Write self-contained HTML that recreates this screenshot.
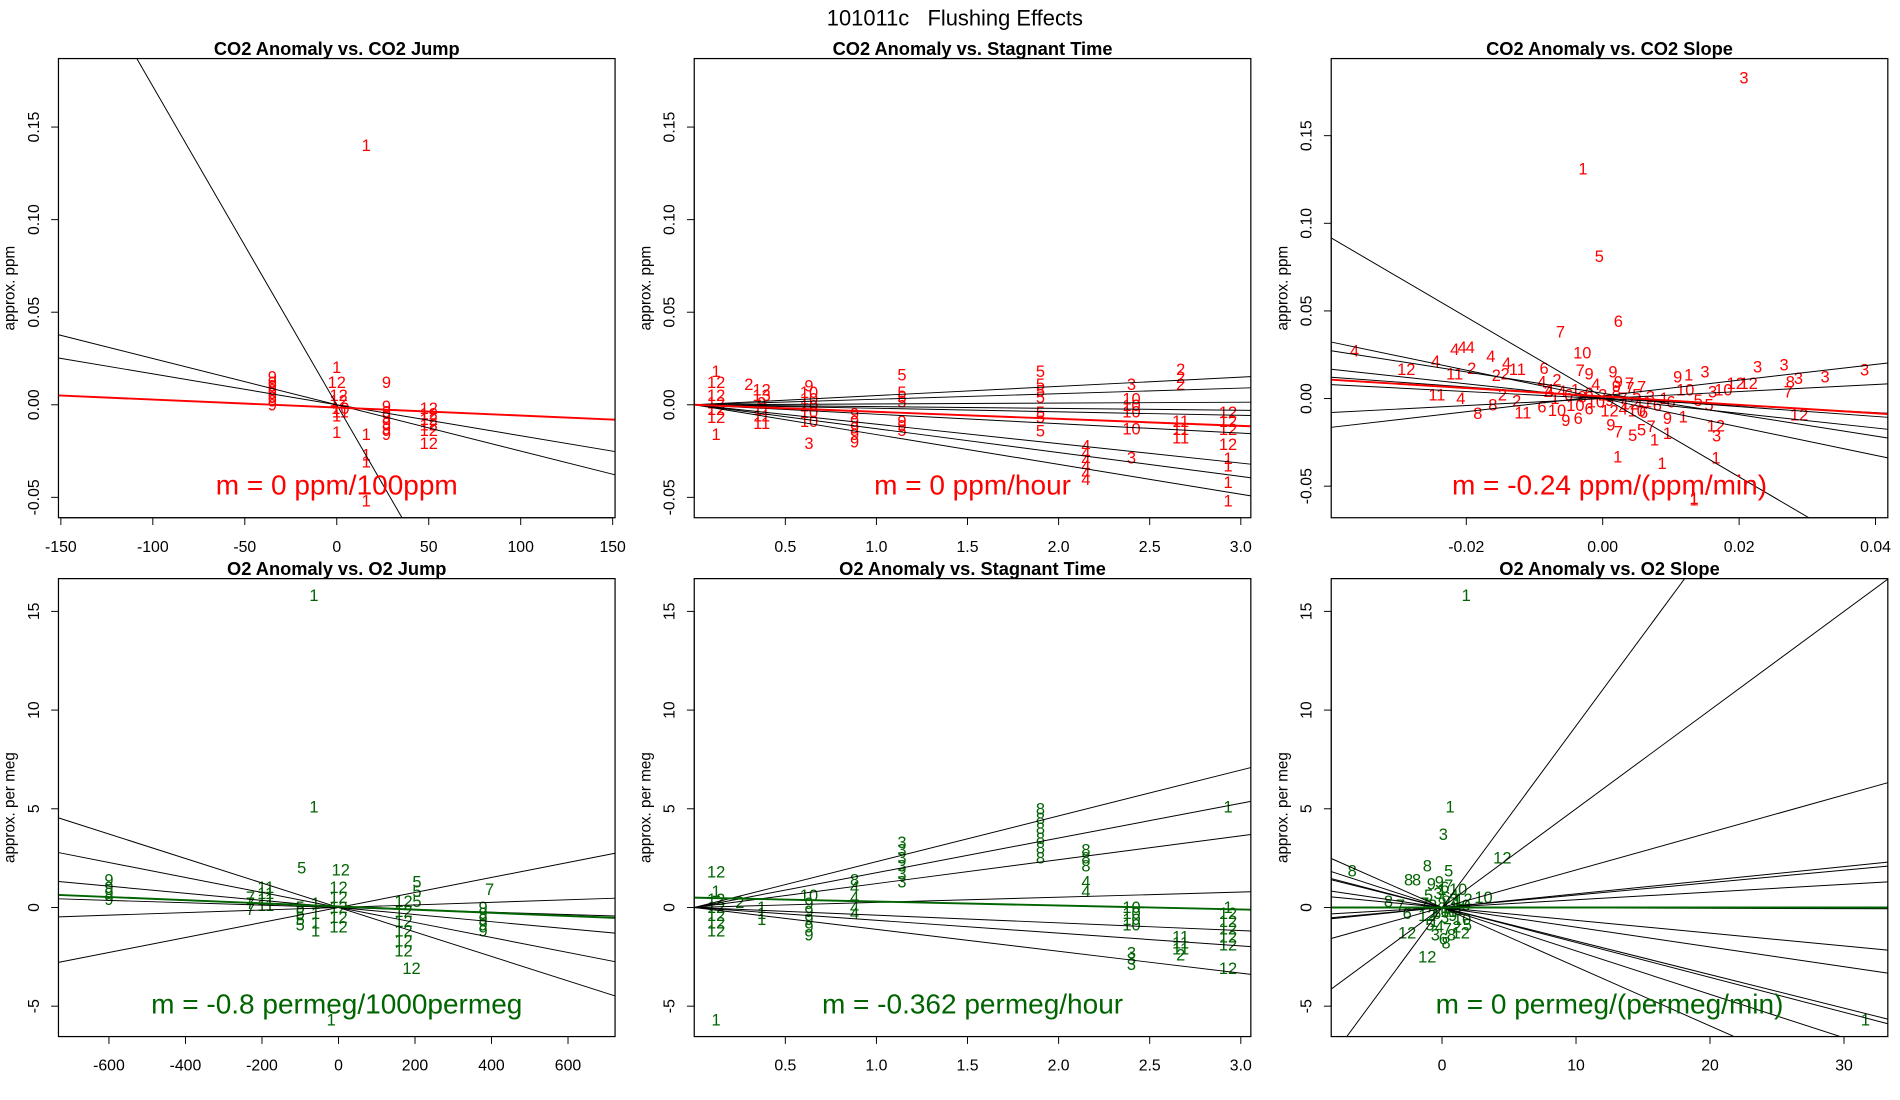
<!DOCTYPE html>
<html><head><meta charset="utf-8"><title>101011c Flushing Effects</title>
<style>
html,body{margin:0;padding:0;background:#fff;}
svg{display:block;font-family:"Liberation Sans",sans-serif;}
</style></head>
<body>
<svg id="chart" width="1900" height="1100" viewBox="0 0 1560 903" xmlns="http://www.w3.org/2000/svg">
<rect x="0" y="0" width="1560" height="903" fill="#fff"/>
<text x="784" y="21" text-anchor="middle" font-size="18" style="white-space:pre">101011c   Flushing Effects</text>
</svg>
<script>
// ---------- Panel 1: CO2 Anomaly vs CO2 Jump ----------
const p1X = [-35,-35,-35,-35,-35,-35,-35,-35, 0,0,1,1,2,2,0,0, 16,16,16,16,16, 27,27,27,27,27,27,27, 50,50,50,50,50,50];
const p1Y = [0.015,0.012,0.01,0.008,0.006,0.004,0.002,0, 0.02,0.012,0.005,0.002,-0.002,-0.004,-0.006,-0.015, 0.14,-0.016,-0.027,-0.031,-0.052, 0.012,-0.001,-0.004,-0.007,-0.01,-0.013,-0.016, -0.002,-0.005,-0.008,-0.011,-0.014,-0.021];
const p1L = ['9','9','9','9','9','9','9','9','1','12','12','12','10','11','1','1','1','1','1','1','1','9','9','9','9','9','9','9','12','12','12','12','12','12'];
const p1Slopes = [-0.00172,-0.00025,-0.000167];
const p1Ints = [0,0,0];
const p1FitSlope = -0.0000433, p1FitInt = -0.0015;

// ---------- Panel 2: CO2 Anomaly vs Stagnant Time ----------
const p2X = [0.12,0.12,0.12,0.12,0.12,0.12,0.12, 0.3, 0.37,0.37,0.37,0.37,0.37,0.37, 0.63,0.63,0.63,0.63,0.63,0.63,0.63, 0.88,0.88,0.88,0.88,0.88, 1.14,1.14,1.14,1.14,1.14,1.14,1.14, 1.9,1.9,1.9,1.9,1.9,1.9,1.9, 2.15,2.15,2.15,2.15,2.15,2.15, 2.4,2.4,2.4,2.4,2.4,2.4, 2.67,2.67,2.67,2.67,2.67,2.67, 2.93,2.93,2.93,2.93,2.93,2.93,2.93,2.93];
const p2Y = [0.018,0.012,0.005,0.001,-0.0025,-0.007,-0.016, 0.011, 0.008,0.005,0.001,-0.0025,-0.006,-0.01, 0.01,0.0065,0.003,-0.0007,-0.0043,-0.009,-0.021, -0.005,-0.009,-0.0125,-0.016,-0.02, 0.016,0.0065,0.004,0.0015,-0.009,-0.0116,-0.014, 0.018,0.011,0.0074,0.0038,-0.0043,-0.007,-0.0143, -0.0224,-0.026,-0.0297,-0.033,-0.037,-0.0405, 0.011,0.003,-0.0005,-0.004,-0.013,-0.0288, 0.019,0.0147,0.011,-0.009,-0.0134,-0.018, -0.0043,-0.009,-0.0134,-0.0215,-0.029,-0.033,-0.042,-0.052];
const p2L = ['1','12','12','12','12','12','1','2','12','13','9','11','11','11','9','10','10','10','10','10','3','9','9','9','9','9','5','5','5','5','9','9','5','5','5','5','5','5','5','5','4','4','4','4','4','4','3','10','10','10','10','3','2','2','2','11','11','11','12','12','12','12','1','1','1','1'];
const p2Slopes = [0.00497,0.003,0.00046,-0.00098,-0.0019,-0.0051,-0.0105,-0.0129,-0.0161];
const p2Ints = [0,0,0,0,0,0,0,0,0];
const p2FitSlope = -0.0038, p2FitInt = 0;

// ---------- Panel 3: CO2 Anomaly vs CO2 Slope ----------
const p3X = [0.0207,-0.0029,-0.0005,0.0023,-0.0062,-0.003,0.0134, -0.0364,-0.0217,-0.0206,-0.0194,-0.0245,-0.0288,-0.0164,-0.0141,-0.0125,-0.0217,-0.0192,-0.0156,-0.0143,-0.0243,-0.0208,-0.0183,-0.0161,-0.0147,-0.0126,-0.0117,-0.0086,-0.0067,-0.0089,-0.0078,-0.0089,-0.0067,-0.0054,-0.0036,-0.0033,-0.002,0.0015,0.0023,0.0039,0.0057, 0.0012,0.0023,0.0044,0.0057,0.0071,0.0076,0.0095,0.0095,0.0118,0.011,0.0126,0.015,0.0121,0.014,0.0156,0.0161,0.0177,0.0195,0.0214,0.0227,0.0266,0.0275,0.0287,0.0326,0.0384,0.0272,0.0288,0.0166,0.0167,0.0166,0.0022,0.0087,0.0134, -0.006,-0.005,-0.004,-0.003,-0.002,-0.001,0,0.001,0.002,0.003,0.004,0.005,0.006,0.007,0.008,-0.004,-0.002,0.001,0.003,0.005,0.006,-0.007,-0.008,-0.001,0.002,0.004,0.009,0.01];
const p3Y = [0.183,0.131,0.081,0.044,0.038,0.026,-0.058, 0.027,0.028,0.029,0.029,0.021,0.0165,0.024,0.02,0.0165,0.0139,0.017,0.013,0.014,0.002,0,-0.0086,-0.0038,0.002,-0.0015,-0.0082,0.017,0.0105,0.0095,0.0048,-0.0048,-0.0067,-0.0124,-0.0114,0.016,0.014,0.015,0.0095,0.0086,0.0067, -0.0152,-0.019,-0.021,-0.018,-0.016,-0.0238,-0.02,-0.0114,-0.0105,0.0124,0.0133,0.015,0.0048,-0.001,-0.0038,0.0038,0.0048,0.0086,0.0086,0.018,0.019,0.0095,0.0114,0.0124,0.0162,0.0038,-0.0095,-0.0158,-0.0215,-0.034,-0.0333,-0.037,-0.057, 0.004,0.002,0.005,0.001,0.003,-0.002,0.002,-0.001,0.004,0,-0.003,0.002,-0.002,0.001,-0.004,-0.004,-0.006,-0.007,-0.006,-0.007,-0.008,0,0.004,0.008,0.007,0.006,0,-0.002];
const p3L = ['3','1','5','6','7','10','1', '4','4','4','4','4','12','4','4','11','11','2','2','2','11','4','8','8','2','2','11','6','2','4','4','6','10','9','6','7','9','9','9','7','7', '9','7','5','5','7','1','1','9','1','9','1','3','10','5','5','3','10','12','12','3','3','8','3','3','3','7','12','12','3','1','1','1','1', '4','6','1','8','6','10','2','9','8','7','12','5','11','3','6','10','6','12','4','10','6','1','2','4','9','7','1','6'];
const p3Slopes = [-2.28,-0.81,-0.61,-0.42,-0.28,-0.2,0.2,0.45];
const p3Ints = [0.0009,0,0.003,0,0.001,0,0,0.0015];
const p3FitSlope = -0.24, p3FitInt = 0.0012;

// ---------- Panel 4: O2 Anomaly vs O2 Jump ----------
const p4X = [-64,-64,-96,6,-19,191, -600,-600,-600,-600, -230,-230,-230, -190,-190,-190,-190, -100,-100,-100,-100, -60,-60,-60,-60, 0,0,0,0,0, 170,170,170,170,170,170, 205,205,205, 378,378,378,378,378, 395];
const p4Y = [15.8,5.1,2.0,1.9,-5.7,-3.1, 1.4,1.0,0.7,0.4, 0.5,0.2,-0.1, 1.0,0.7,0.4,0.1, 0,-0.3,-0.6,-0.9, 0.2,-0.3,-0.8,-1.2, 1.0,0.5,0,-0.5,-1.0, 0.3,-0.2,-0.7,-1.2,-1.7,-2.2, 1.3,0.8,0.3, 0,-0.3,-0.6,-0.9,-1.2, 0.9];
const p4L = ['1','1','5','12','1','12','9','9','9','9','7','7','7','11','11','11','11','5','5','5','5','1','1','1','1','12','12','12','12','12','12','12','12','12','12','12','5','5','5','9','9','9','9','9','7'];
const p4Slopes = [-0.0062,-0.0038,-0.0018,-0.0006,0.0038,0.00065];
const p4Ints = [0,0,0,0,0,0];
const p4FitSlope = -0.0008, p4FitInt = 0.05;

// ---------- Panel 5: O2 Anomaly vs Stagnant Time ----------
const p5X = [0.12,0.12,0.12,0.12,0.12,0.12,0.12,0.12, 0.25, 0.37,0.37,0.37, 0.63,0.63,0.63,0.63,0.63,0.63, 0.88,0.88,0.88,0.88,0.88, 1.14,1.14,1.14,1.14,1.14,1.14, 1.9,1.9,1.9,1.9,1.9,1.9, 2.15,2.15,2.15,2.15,2.15, 2.4,2.4,2.4,2.4,2.4,2.4,2.4, 2.67,2.67,2.67,2.67, 2.93,2.93,2.93,2.93,2.93,2.93,2.93,2.93];
const p5Y = [1.8,0.8,0.4,0,-0.4,-0.8,-1.2,-5.7, 0.25, 0,-0.3,-0.6, 0.6,0.2,-0.2,-0.6,-1.0,-1.4, 1.4,1.0,0.5,0,-0.3, 3.3,2.9,2.5,2.1,1.7,1.3, 5.0,4.5,4.0,3.5,3.0,2.5, 2.9,2.5,2.1,1.3,0.8, 0,-0.3,-0.6,-0.9,-2.3,-2.6,-2.9, -1.5,-1.8,-2.1,-2.4, 5.1,0,-0.3,-0.7,-1.1,-1.5,-1.9,-3.1];
const p5L = ['12','1','12','12','12','12','12','1','2','1','1','1','10','9','9','9','9','9','8','4','4','4','4','3','3','3','3','3','3','8','8','8','8','8','8','8','8','8','4','4','10','10','10','10','3','3','3','11','11','11','2','1','1','12','12','12','12','12','12'];
const p5Slopes = [2.32,1.76,1.21,0.26,-0.39,-0.65,-1.11];
const p5Ints = [0,0,0,0,0,0,0];
const p5FitSlope = -0.2, p5FitInt = 0.5;

// ---------- Panel 6: O2 Anomaly vs O2 Slope ----------
const p6X = [1.8,0.6,0.1,4.5,0.5,-6.7,-2.5,-1.9,-1.1,3.1,-4,-2.6,-2.6,-1.1,31.6,-3.1, -0.8,-0.2,0.5,1.2,-1,-0.3,0.3,0.9,1.6,-0.7,0,0.6,1.3,-1.1,-0.4,0.2,0.8,1.5,-0.9,-0.2,0.4,1.1,1.9,-0.5,0.1,0.7,1.4,0,0.5,-0.1,1.8,-1.3,0.2,-0.6,1.0,0.3];
const p6Y = [15.8,5.1,3.7,2.5,1.85,1.85,1.4,1.4,2.1,0.5,0.3,-0.3,-1.3,-2.5,-5.7,0.1, 1.2,1.3,1.1,0.9,0.6,0.7,0.5,0.6,0.4,0.1,0.2,0,-0.1,-0.4,-0.3,-0.5,-0.4,-0.6,-0.9,-1.0,-1.1,-1.0,-0.9,-1.4,-1.6,-1.4,-1.3,0.9,-0.2,-0.2,0.1,0.2,1.0,-0.7,0.3,-1.8];
const p6L = ['1','1','3','12','5','8','8','8','8','10','8','6','12','12','1','7', '9','9','7','10','5','3','6','4','12','2','8','11','1','12','6','3','9','10','5','4','7','2','5','3','6','8','12','1','11','10','9','7','6','1','4','8'];
const p6Slopes = [0.92,0.5,0.19,0.069,0.063,0.039,-0.002,-0.065,-0.17,-0.177,-0.3,-0.22,-0.1];
const p6Ints = [0,0,0,0,0,0,0,0,0,0,0,0,0];
const p6FitSlope = 0, p6FitInt = 0;

const NS = 'http://www.w3.org/2000/svg';
const svg = document.getElementById('chart');
function mk(tag, attrs, parent){
  const e = document.createElementNS(NS, tag);
  for (const k in attrs) e.setAttribute(k, attrs[k]);
  (parent||svg).appendChild(e);
  return e;
}

function drawPanel(idx, box, xr, yr, xticks, xlabels, yticks, ylabels, title, ytitle, xs, ys, ls, slopes, ints, fitS, fitI, color, note){
  const g = mk('g', {});
  
  
  const sx = v => box.x0 + (v - xr[0]) / (xr[1] - xr[0]) * (box.x1 - box.x0);
  const sy = v => box.y1 - (v - yr[0]) / (yr[1] - yr[0]) * (box.y1 - box.y0);
  const cp = mk('clipPath', {id: 'clip' + idx}, g);
  mk('rect', {x: box.x0, y: box.y0, width: box.x1 - box.x0, height: box.y1 - box.y0}, cp);

  const t = mk('text', {x: (box.x0 + box.x1) / 2, y: box.y0 - 3, 'text-anchor': 'middle', 'font-size': 15, 'font-weight': 'bold'}, g);
  t.textContent = title;
  
  

  const yt = mk('text', {transform: 'translate(' + (box.x0 - 36) + ',' + ((box.y0 + box.y1) / 2) + ') rotate(-90)', 'text-anchor': 'middle', 'font-size': 12.5}, g);
  yt.textContent = ytitle;
  
  

  xticks.forEach((v, i) => {
    const x = sx(v);
    const tk = mk('line', {x1: x, x2: x, y1: box.y1, y2: box.y1 + 6, stroke: '#000', 'stroke-width': 0.8}, g);
    
    
    const lb = mk('text', {x: x, y: box.y1 + 28, 'text-anchor': 'middle', 'font-size': 13}, g);
    lb.textContent = xlabels[i];
    
    
  });
  yticks.forEach((v, i) => {
    const y = sy(v);
    const tk = mk('line', {x1: box.x0 - 6, x2: box.x0, y1: y, y2: y, stroke: '#000', 'stroke-width': 0.8}, g);
    
    
    const lb = mk('text', {transform: 'translate(' + (box.x0 - 16) + ',' + y + ') rotate(-90)', 'text-anchor': 'middle', 'font-size': 13}, g);
    lb.textContent = ylabels[i];
    
    
  });
  mk('line', {x1: sx(xticks[0]), x2: sx(xticks[xticks.length - 1]), y1: box.y1, y2: box.y1, stroke: '#000', 'stroke-width': 0.8}, g);
  mk('line', {x1: box.x0, x2: box.x0, y1: sy(yticks[0]), y2: sy(yticks[yticks.length - 1]), stroke: '#000', 'stroke-width': 0.8}, g);

  const inner = mk('g', {'clip-path': 'url(#clip' + idx + ')'}, g);
  xs.forEach((v, i) => {
    const p = mk('text', {x: sx(v), y: sy(ys[i]) + 4.5, 'text-anchor': 'middle', 'font-size': 13.5, fill: color}, inner);
    p.textContent = ls[i];
    
    
  });
  slopes.forEach((m, i) => {
    const l = mk('line', {x1: sx(xr[0]), y1: sy(ints[i] + m * xr[0]), x2: sx(xr[1]), y2: sy(ints[i] + m * xr[1]), stroke: '#000', 'stroke-width': 0.8}, inner);
    
    
  });
  const f = mk('line', {x1: sx(xr[0]), y1: sy(fitI + fitS * xr[0]), x2: sx(xr[1]), y2: sy(fitI + fitS * xr[1]), stroke: color, 'stroke-width': 1.6}, inner);
  
  

  const n = mk('text', {x: (box.x0 + box.x1) / 2, y: box.y1 - 19, 'text-anchor': 'middle', 'font-size': 23, fill: color}, g);
  n.textContent = note;
  
  

  const fr = mk('rect', {x: box.x0, y: box.y0, width: box.x1 - box.x0, height: box.y1 - box.y0, fill: 'none', stroke: '#000', 'stroke-width': 1}, g);
  
  
}

const RED = '#ff0000', GREEN = '#006400';
const co2Ticks = [-0.05, 0, 0.05, 0.1, 0.15], co2Labels = ['-0.05', '0.00', '0.05', '0.10', '0.15'];
const o2Ticks = [-5, 0, 5, 10, 15], o2Labels = ['-5', '0', '5', '10', '15'];
const stTicks = [0.5, 1, 1.5, 2, 2.5, 3], stLabels = ['0.5', '1.0', '1.5', '2.0', '2.5', '3.0'];

drawPanel(1, {x0: 48, x1: 505, y0: 48, y1: 425}, [-151.3, 151.3], [-0.061, 0.187],
  [-150, -100, -50, 0, 50, 100, 150], ['-150', '-100', '-50', '0', '50', '100', '150'], co2Ticks, co2Labels,
  'CO2 Anomaly vs. CO2 Jump', 'approx. ppm', p1X, p1Y, p1L, p1Slopes, p1Ints, p1FitSlope, p1FitInt, RED, 'm = 0 ppm/100ppm');
drawPanel(2, {x0: 570, x1: 1027, y0: 48, y1: 425}, [0, 3.055], [-0.061, 0.187],
  stTicks, stLabels, co2Ticks, co2Labels,
  'CO2 Anomaly vs. Stagnant Time', 'approx. ppm', p2X, p2Y, p2L, p2Slopes, p2Ints, p2FitSlope, p2FitInt, RED, 'm = 0 ppm/hour');
drawPanel(3, {x0: 1093, x1: 1550, y0: 48, y1: 425}, [-0.0398, 0.0418], [-0.068, 0.194],
  [-0.02, 0, 0.02, 0.04], ['-0.02', '0.00', '0.02', '0.04'], co2Ticks, co2Labels,
  'CO2 Anomaly vs. CO2 Slope', 'approx. ppm', p3X, p3Y, p3L, p3Slopes, p3Ints, p3FitSlope, p3FitInt, RED, 'm = -0.24 ppm/(ppm/min)');
drawPanel(4, {x0: 48, x1: 505, y0: 475, y1: 851}, [-732, 723], [-6.54, 16.66],
  [-600, -400, -200, 0, 200, 400, 600], ['-600', '-400', '-200', '0', '200', '400', '600'], o2Ticks, o2Labels,
  'O2 Anomaly vs. O2 Jump', 'approx. per meg', p4X, p4Y, p4L, p4Slopes, p4Ints, p4FitSlope, p4FitInt, GREEN, 'm = -0.8 permeg/1000permeg');
drawPanel(5, {x0: 570, x1: 1027, y0: 475, y1: 851}, [0, 3.055], [-6.54, 16.66],
  stTicks, stLabels, o2Ticks, o2Labels,
  'O2 Anomaly vs. Stagnant Time', 'approx. per meg', p5X, p5Y, p5L, p5Slopes, p5Ints, p5FitSlope, p5FitInt, GREEN, 'm = -0.362 permeg/hour');
drawPanel(6, {x0: 1093, x1: 1550, y0: 475, y1: 851}, [-8.27, 33.27], [-6.54, 16.66],
  [0, 10, 20, 30], ['0', '10', '20', '30'], o2Ticks, o2Labels,
  'O2 Anomaly vs. O2 Slope', 'approx. per meg', p6X, p6Y, p6L, p6Slopes, p6Ints, p6FitSlope, p6FitInt, GREEN, 'm = 0 permeg/(permeg/min)');
</script>
</body></html>
